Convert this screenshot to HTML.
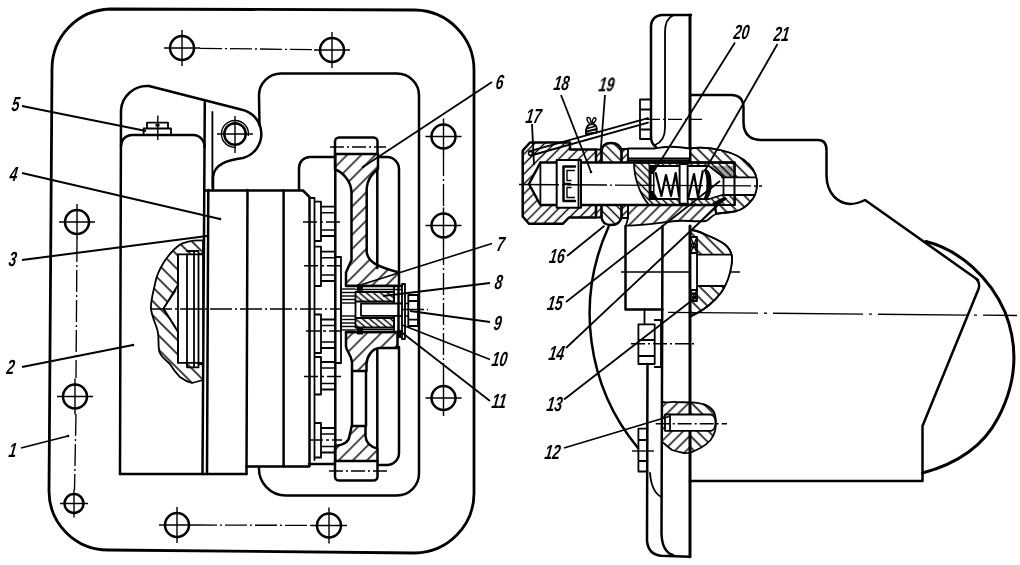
<!DOCTYPE html>
<html><head><meta charset="utf-8"><title>Drawing</title>
<style>
html,body{margin:0;padding:0;background:#fff}
svg{display:block}
.k{fill:none;stroke:#000;stroke-width:2.5;stroke-linecap:round;stroke-linejoin:round}
.m{fill:none;stroke:#000;stroke-width:1.8;stroke-linecap:round;stroke-linejoin:round}
.t{fill:none;stroke:#000;stroke-width:1.4}
.l{fill:none;stroke:#000;stroke-width:1.8}
.c{fill:none;stroke:#000;stroke-width:1.35;stroke-dasharray:22 3 2 3}
.w{fill:#fff;stroke:#000;stroke-width:2.3;stroke-linejoin:round}
.wm{fill:#fff;stroke:#000;stroke-width:1.8;stroke-linejoin:round}
.wn{fill:#fff;stroke:none}
.b{fill:#000;stroke:none}
text{font-family:"Liberation Sans",sans-serif;font-style:italic;font-weight:bold;fill:#000}
</style></head><body>
<svg width="1020" height="565" viewBox="0 0 1020 565">
<defs>
<pattern id="h10" width="10" height="10" patternUnits="userSpaceOnUse" patternTransform="rotate(45)"><path d="M5.0,-1V11.0" stroke="#000" stroke-width="1.4"/></pattern>
<pattern id="h8" width="8" height="8" patternUnits="userSpaceOnUse" patternTransform="rotate(45)"><path d="M4,-1V9" stroke="#000" stroke-width="1.4"/></pattern>
<pattern id="h7" width="7" height="7" patternUnits="userSpaceOnUse" patternTransform="rotate(45)"><path d="M3.5,-1V8.0" stroke="#000" stroke-width="1.4"/></pattern>
<pattern id="h5" width="5" height="5" patternUnits="userSpaceOnUse" patternTransform="rotate(45)"><path d="M2.5,-1V6.0" stroke="#000" stroke-width="1.4"/></pattern>
<pattern id="b10" width="10" height="10" patternUnits="userSpaceOnUse" patternTransform="rotate(-45)"><path d="M5,-1V11" stroke="#000" stroke-width="1.5"/></pattern>
<pattern id="b8" width="8" height="8" patternUnits="userSpaceOnUse" patternTransform="rotate(-45)"><path d="M4,-1V9" stroke="#000" stroke-width="1.5"/></pattern>
<pattern id="b7" width="7" height="7" patternUnits="userSpaceOnUse" patternTransform="rotate(-45)"><path d="M3.5,-1V8.0" stroke="#000" stroke-width="1.4"/></pattern>
<pattern id="b5" width="5" height="5" patternUnits="userSpaceOnUse" patternTransform="rotate(-45)"><path d="M2.5,-1V6.0" stroke="#000" stroke-width="1.4"/></pattern>
<pattern id="b4" width="4.5" height="4.5" patternUnits="userSpaceOnUse" patternTransform="rotate(-50)"><path d="M2.25,-1V5.5" stroke="#000" stroke-width="1.4"/></pattern>
</defs>
<rect width="1020" height="565" fill="#fff"/>
<path class="k" style="stroke-width:2.8" d="M110,9 L415,10 A60,60 0 0 1 474,70 L474,493 A60,60 0 0 1 415,553 L108,550 A59,59 0 0 1 49,491 L52,69 A60,60 0 0 1 110,9Z"/>
<circle cx="182" cy="48" r="12" class="k"/>
<path d="M164,48H200M182,30V66" class="t"/>
<circle cx="332" cy="50" r="12" class="k"/>
<path d="M314,50H350M332,32V68" class="t"/>
<circle cx="443.5" cy="136.5" r="12" class="k"/>
<path d="M425.5,136.5H461.5M443.5,118.5V154.5" class="t"/>
<circle cx="443.5" cy="225.5" r="12" class="k"/>
<path d="M425.5,225.5H461.5M443.5,207.5V243.5" class="t"/>
<circle cx="443.5" cy="398" r="12" class="k"/>
<path d="M425.5,398H461.5M443.5,380V416" class="t"/>
<circle cx="329" cy="525.5" r="12" class="k"/>
<path d="M311,525.5H347M329,507.5V543.5" class="t"/>
<circle cx="177" cy="525" r="12" class="k"/>
<path d="M159,525H195M177,507V543" class="t"/>
<circle cx="75" cy="396.5" r="12" class="k"/>
<path d="M57,396.5H93M75,378.5V414.5" class="t"/>
<circle cx="77" cy="222" r="12" class="k"/>
<path d="M59,222H95M77,204V240" class="t"/>
<circle cx="74" cy="503.5" r="9.5" class="k"/>
<path d="M60,503.5H88M74,489.5V517.5" class="t"/>
<path class="c" d="M200,48.3 L314,49.7"/>
<path class="c" d="M195,525 L311,525.4"/>
<path class="c" d="M443.5,154 V208 M443.5,243 V380"/>
<path class="c" d="M77,240 L76,378 M76,414 L74.5,490"/>
<path class="k" d="M120,474 L121,110 A26,26 0 0 1 149,86 L241,109.5 A24.9,24.9 0 0 1 243,158 C228,160 214,164 213,177 L213,190"/>
<path class="k" d="M259.5,125 L259,96 A22,22 0 0 1 281,73.5 L397,73.5 A22,22 0 0 1 419,96 L419,473 A22,22 0 0 1 397,495.5 L286,495.5 A27,27 0 0 1 259,467"/>
<circle cx="235" cy="134" r="10.7" class="k"/>
<path class="t" d="M248.3,136 A13.5,13.5 0 1 0 236,147.4"/>
<path class="t" d="M217,134H253M235,116V153"/>
<path class="k" d="M121,146 A11,11 0 0 1 132,135 L193,135 A11.5,11.5 0 0 1 204.6,147"/>
<path class="k" d="M204.8,102 L202.5,474"/>
<path class="k" d="M208.3,190 L207,474"/>
<path class="m" d="M212.4,112 V188"/>
<path class="k" d="M120,474 H246.5"/>
<path class="k" d="M247.5,190 L246.5,474"/>
<path class="k" d="M246.5,466.5 H309"/>
<path class="m" d="M143.6,135 V128.5 H171 V135 M147,128.5 V122.7 H168 V128.5"/>
<path class="t" d="M157.8,115.5 V140"/>
<rect x="155.5" y="124" width="4" height="2.5" class="b"/>
<path class="k" d="M205,190.5 H303 L309.5,197 V466"/>
<path class="k" d="M283.6,190.5 V466"/>
<path class="m" d="M309.5,198 H314.5 V460"/>
<path class="k" d="M299,190 V168 A11,11 0 0 1 310,157 H335"/>
<path class="k" d="M378,157 H387 A12,12 0 0 1 399,169 V272 M399,347 V453 A12,12 0 0 1 387,465 H378"/>
<path class="k" d="M309,464 H334"/>
<path d="M335,154 H378 V169 C374,172 367.5,178 366.7,188 V252 C368,262 376,266 399,272.5 V286 H346 V272.5 L351.5,260 V192 C351,180 342,172 335,169.5Z" class="k" style="fill:url(#h10)"/>
<path d="M346,332 H397.5 V348 H379 C372,349 367,356 366.5,364 V371 H352 V362 C351,354 346,350 346,346.5Z" class="k" style="fill:url(#h10)"/>
<path d="M351.7,426 H365.5 V436 C366,443 371,447 377.5,448.5 V461 H335 V446 C343,445 349,442 349.5,436 Z" class="k" style="fill:url(#h10)"/>
<path class="k" d="M352,371 V426 M366,371 V426"/>
<path class="k" d="M335,154 V141.5 A4,4 0 0 1 339,137.5 H373.5 A4,4 0 0 1 377.5,141.5 V154"/>
<path class="k" d="M335,461 V476.5 A4,4 0 0 0 339,480.5 H373.5 A4,4 0 0 0 377.5,476.5 V461"/>
<path class="k" d="M335.3,154 V461"/>
<path class="k" d="M377.3,169 V268 M377.3,349 V448"/>
<path class="c" style="stroke-dasharray:14 3 2 3" d="M330,147 H386 M329,471 H387"/>
<rect x="341" y="286" width="61" height="46" class="wn"/>
<path class="k" d="M346,286 H402 M346,332 H402"/>
<rect x="357" y="284.3" width="6" height="6.5" class="b"/>
<rect x="357" y="328" width="6" height="6.5" class="b"/>
<path class="m" d="M341,287 V331"/>
<path class="t" d="M341,289 H355.5"/>
<path class="t" d="M341,292.5 H355.5"/>
<path class="t" d="M341,296 H355.5"/>
<path class="t" d="M341,299.5 H355.5"/>
<path class="t" d="M341,303 H355.5"/>
<path class="t" d="M341,316 H355.5"/>
<path class="t" d="M341,319.5 H355.5"/>
<path class="t" d="M341,323 H355.5"/>
<path class="t" d="M341,326.5 H355.5"/>
<path class="t" d="M341,330 H355.5"/>
<path class="t" d="M355.5,289.5 H402 M355.5,329.5 H394"/>
<rect x="355.5" y="292" width="38.5" height="9.5" class="m" style="fill:url(#b4)"/>
<rect x="355.5" y="318" width="38.5" height="9.5" class="m" style="fill:url(#b4)"/>
<path class="m" d="M355.5,301.5 V318 M361,303.5 H402 M361,315.8 H402 M361,303.5 V315.8 M394,287 V303.5 M394,315.8 V332"/>
<path class="m" d="M402,284 V339 M405,284 V339 M402,284 H405 M402,339 H405"/>
<path class="m" d="M408.3,295 H418 V326 H408.3 Z M408.3,301 H418 M408.3,319.7 H418"/>
<path class="t" d="M405,303.5 H408.3 M405,316 H408.3"/>
<rect x="397" y="330" width="4" height="8" class="b"/>
<path class="k" d="M398.5,286 V332"/>
<path class="m" d="M315.5,201.7 H321 V241 H315.5"/>
<path class="m" d="M321,206.7 H335 M321,236 H335"/>
<path class="t" d="M321,212.7 H335 M321,230 H335"/>
<path class="m" d="M315.5,246.7 H321 V286 H315.5"/>
<path class="m" d="M321,251.7 H335 M321,281 H335"/>
<path class="t" d="M321,257.7 H335 M321,275 H335"/>
<path class="m" d="M315.5,314.5 H321 V353 H315.5"/>
<path class="m" d="M321,319.5 H335 M321,348 H335"/>
<path class="t" d="M321,325.5 H335 M321,342 H335"/>
<path class="m" d="M315.5,357 H321 V394.5 H315.5"/>
<path class="m" d="M321,362 H335 M321,389.5 H335"/>
<path class="t" d="M321,368 H335 M321,383.5 H335"/>
<path class="m" d="M315.5,423 H321 V457.5 H315.5"/>
<path class="m" d="M321,428 H335 M321,452.5 H335"/>
<path class="t" d="M321,434 H335 M321,446.5 H335"/>
<path class="t" style="stroke-dasharray:14 3 3 3" d="M303,222 H340"/>
<path class="t" style="stroke-dasharray:14 3 3 3" d="M304,265.7 H343"/>
<path class="t" style="stroke-dasharray:14 3 3 3" d="M306,331 H341"/>
<path class="t" style="stroke-dasharray:14 3 3 3" d="M304,376.5 H342"/>
<path class="t" style="stroke-dasharray:14 3 3 3" d="M309,440 H342"/>
<path class="m" d="M335,257 H341 V363 H335"/>
<path d="M203,240.5 C190,240 182,243 179.5,245 C172,250 168,256 164,262 C159,270 156,277 155,284 C153,293 150.5,302 151,308.6 C152,318 157,326 158,333 C159,340 158,347 159.4,352 C162,358 166,360 170,364 C173,369 176,373 179.5,376.7 C184,380 188,382 192,383 L203,380 Z" class="m" style="fill:url(#b10)"/>
<path class="wm" d="M203,254.4 H178 V285 L163.4,308.6 L178,332 V362.8 H203 Z"/>
<path class="m" d="M178,254.4 V362.8 M187,254.4 V362.8 M187,251 H194 V367.4 H187 V362.8 M194,251 H198.5 V367.4 H194 M198.5,254 H203 M198.5,364 H203"/>
<path class="t" d="M163.4,308.6 L176,290 M163.4,308.6 L176,328"/>
<path class="c" d="M150,309 H340 M402,309.5 H428"/>
<path class="k" d="M651,137 V26 A11,11 0 0 1 662,15 H691"/>
<path class="k" style="stroke-width:3" d="M690,15 V162 M690,226 V556.7"/>
<path class="m" d="M673,15.5 C667,18 665,24 665,32 V128 C665,138 660,143 655,145"/>
<path class="k" d="M651,137 C651,142 653,145 656,147"/>
<path class="k" d="M662.5,226 L661.5,534 C662,546 666,553 673,555"/>
<path class="k" d="M647.5,364 L647,541 C648,550 653,555 661,555.7 L690,556.7"/>
<path class="m" d="M650,473 C651,485 655,494 661.5,497"/>
<path class="m" d="M651,99.5 H640 V139 H651 M640,109.5 H651 M640,129.5 H651"/>
<path class="c" style="stroke-dasharray:14 3 2 3" d="M646,119.3 H702"/>
<path class="m" style="stroke-width:1.9" d="M529,151.3 L648,118.2 M531,155.5 L648,122.6"/>
<circle cx="530.5" cy="153.5" r="2" class="t"/>
<path class="m" d="M586,134 C585,128 588,124 592,124 C596,124 598,128 596.5,132.5 Z M587,128.5 L596,126 M586.5,131.5 L597,129"/>
<path class="t" d="M589.5,123.5 C587,121 586,118 588,117.5 C590,117 591,120 591,123 M592.5,123 C592,120 593.5,117 595.5,118 C597,119 595,122 593,123.5"/>
<path d="M530,142.5 H570 V149.5 H596 V217.5 H569 L563,223.7 H529 L522.7,216.5 V150.7 Z" class="k" style="fill:url(#h7)"/>
<rect x="596" y="149.5" width="5.5" height="68" class="m" style="fill:url(#h5)"/>
<path d="M601.5,151 C602,146 605,143 611,143 C617,143 620.5,146 621.5,151 V217 C620.5,222 617,225 611,225 C605,225 602,222 601.5,217 Z" class="k" style="fill:url(#b7)"/>
<rect x="621.5" y="149" width="6.5" height="69" class="m" style="fill:url(#h5)"/>
<path d="M628,205 H715 L716,214 C711,216 709,220 706,221 C695,222 685,220 675.7,221 C660,222.5 640,226 626,225.5 L628,218 Z" class="m" style="fill:url(#h8)"/>
<path d="M690,162.5 V148.5 C700,147 712,148 722,150.5 C733,153 743,158 749,164.4 C755,171 757.5,178 757,185 C756.5,192 755,197 751,201 C747,206 742,209.5 736.7,211 C728,213 722,212.5 716,214 L715,205 H734.6 V162.5 Z" class="m" style="fill:url(#b8)"/>
<path class="wm" d="M628,148.5 H655 C665,146 675,146 690,148.5 V158.5 H628 Z"/>
<path class="m" d="M628,160.5 H690"/>
<path class="wn" d="M540.4,162.5 H651 V205 H540.4 L529,184 Z"/>
<path class="k" d="M690,162.5 H540.4 L529,184 L540.4,205 H715"/>
<path class="m" d="M540.4,162.5 V205"/>
<path class="wm" style="stroke-width:2" d="M556.7,160 H581 V207.7 H556.7 Z"/>
<path class="k" d="M575,166.5 H563.5 V201 H575 M563.5,184 H570"/>
<path class="t" d="M575,170.5 H567 V180.5 H571.5 M571.5,187.5 H567 V197.5 H575"/>
<path class="m" d="M578.5,160 V207.7"/>
<path d="M634,162.5 H734.6 V205 H649 C640,195 634,178 634,162.5 Z" class="m" style="fill:url(#b5)"/>
<rect x="649.5" y="166" width="30.2" height="33" class="wm"/>
<rect x="679.7" y="164" width="8" height="39.7" class="wm"/>
<path class="wm" d="M687.7,166 H709 L722,176 V177.4 H734.6 V195 H722 L709,199 H687.7 Z"/>
<path class="m" d="M723.5,177.4 V195"/>
<path class="k" style="stroke-width:2.2" d="M655.8,173 L661.4,196 L666,175 L671,196 L675.7,173 L679,196"/>
<path class="k" style="stroke-width:2.2" d="M688.5,197 L694,174 L698,197 L702.8,171"/>
<path class="b" d="M649.5,166 H658 L654.5,172 V193 L658,199 H649.5 Z"/>
<path class="wn" d="M651.5,174 H653 V191 H651.5 Z"/>
<path class="b" d="M703.5,169.5 C708,168 711.5,172 711.6,184 C711.5,196 708,200 703.5,199 C706,194 706.5,189 706.5,184 C706.5,179 706,174 703.5,169.5 Z"/>
<path class="b" d="M709,166 H734.6 V177.4 H722 Z" style="opacity:.35"/>
<path class="b" d="M712,203 L725,196.5 L727,199 L716,206 Z"/>
<clipPath id="cb"><path d="M690,162.5 V148.5 C700,147 712,148 722,150.5 C733,153 743,158 749,164.4 C755,171 757.5,178 757,185 C756.5,192 755,197 751,201 C747,206 742,209.5 736.7,211 C728,213 722,212.5 716,214 L715,205 H734.6 V162.5 Z"/></clipPath>
<path class="wn" clip-path="url(#cb)" d="M734.6,177.4 H760 V195 H734.6 Z"/>
<path class="m" d="M734.6,177.4 H755.5 M734.6,195 H753.5"/>
<path d="M690,162.5 V148.5 C700,147 712,148 722,150.5 C733,153 743,158 749,164.4 C755,171 757.5,178 757,185 C756.5,192 755,197 751,201 C747,206 742,209.5 736.7,211 C728,213 722,212.5 716,214 L715,205 H734.6 V162.5 Z" class="m"/>
<path class="c" style="stroke-dasharray:40 3 2 3" d="M519,184.5 L762,186"/>
<path class="k" d="M625.5,226 V309.5 H662.5"/>
<path class="k" d="M608.6,226.8 A210,210 0 0 0 638,448"/>
<path class="m" d="M644.5,309.5 V324.4"/>
<path class="m" d="M638.4,324.4 H654.7 V364 H638.4 Z M638.4,340 H654.7 M638.4,356 H654.7"/>
<path class="m" d="M654.7,320 H661 V367 H654.7"/>
<path class="c" style="stroke-dasharray:14 3 2 3" d="M631,343.7 H696"/>
<path class="m" d="M647.5,428.7 H638.4 V471.5 H647.5 M638.4,440 H647.5 M638.4,461 H647.5"/>
<path class="t" d="M632,451 H654"/>
<path class="c" style="stroke-dasharray:78 4 3 4" d="M621,272 H740"/>
<path d="M690,230 C697,230 702,233 706.5,235 C714,238 720,241 725,244.4 C730,249 732,254 732,258.7 C732,266 730,273 728,279 C726,284 724,289 720.8,293 C717,298 713,302 708.6,305.5 C704,309 700,312 696,313.6 L690,316.6 Z" class="m" style="fill:url(#b8)"/>
<clipPath id="c13"><path d="M690,230 C697,230 702,233 706.5,235 C714,238 720,241 725,244.4 C730,249 732,254 732,258.7 C732,266 730,273 728,279 C726,284 724,289 720.8,293 C717,298 713,302 708.6,305.5 C704,309 700,312 696,313.6 L690,316.6 Z"/></clipPath>
<path class="wn" clip-path="url(#c13)" d="M697,254.6 H740 V286 H697 Z"/>
<path d="M690,230 C697,230 702,233 706.5,235 C714,238 720,241 725,244.4 C730,249 732,254 732,258.7 C732,266 730,273 728,279 C726,284 724,289 720.8,293 C717,298 713,302 708.6,305.5 C704,309 700,312 696,313.6 L690,316.6 Z" class="m"/>
<path class="m" d="M697,254.6 H731.5 M697,286 H724.5"/>
<path class="wm" d="M690.5,237 H697 V301 H690.5 Z"/>
<path class="m" d="M690.5,253 H697 M690.5,290 H697"/>
<circle cx="693.7" cy="245.5" r="2.2" class="t"/><circle cx="693.7" cy="295.5" r="2.2" class="t"/>
<path class="t" d="M691,238 L696.5,252 M696.5,238 L691,252 M691,291 L696.5,300 M696.5,291 L691,300"/>
<path d="M662,402 C668,403 672,401.5 676,402 L690,402.5 V452.5 C688,453 686,453.2 684,453 C679,452 675,451 672,450 C668,447 665,444 662,442 Z" class="m" style="fill:url(#h8)"/>
<path d="M690,402.5 C695,402 699,403 702.5,404 C707,405 711,408 713.7,411.4 C716,416 716.5,424 715,431 C714,435 712,438 710.6,440 C707,444 704,446 700.5,448 C696,450 693,452 690,452.5 Z" class="m" style="fill:url(#b8)"/>
<path class="wm" d="M665,414.5 H711 A5,8.2 0 0 1 711,430.8 H665 Z"/>
<path class="m" d="M670,414.5 V430.8"/>
<path class="c" style="stroke-dasharray:14 3 2 3" d="M655.7,423.7 H727"/>
<path class="k" d="M691,95 H731 C740,95 743.5,100 743.5,108 V122 C743.5,134 750,140 762,140 H818 C824,140 826.5,144 826.5,150 V176 C827,192 836,203 850,204 C856,204 861,202 865,200 L978,280"/>
<path class="k" style="stroke-width:3" d="M926,241.5 C960,250 990,278 1005,312 C1018,345 1018,380 998,418 C985,443 960,463 922.5,473"/>
<path class="k" d="M976.5,279 C979,282 980,285 978.5,289 L922.5,426 V481 H690"/>
<path class="c" style="stroke-dasharray:90 6 3 6" d="M668,312.3 L1017,315.5"/>
<g opacity="0.999"><!-- LABELS_GROUP -->
<text transform="translate(11,111) skewX(-8) scale(0.68,1)" font-size="20.5">5</text>
<text transform="translate(9,181) skewX(-8) scale(0.68,1)" font-size="20.5">4</text>
<text transform="translate(8,266) skewX(-8) scale(0.68,1)" font-size="20.5">3</text>
<text transform="translate(6,374) skewX(-8) scale(0.68,1)" font-size="20.5">2</text>
<text transform="translate(8,457) skewX(-8) scale(0.68,1)" font-size="20.5">1</text>
<text transform="translate(495,89) skewX(-8) scale(0.68,1)" font-size="20.5">6</text>
<text transform="translate(496,250.5) skewX(-8) scale(0.68,1)" font-size="20.5">7</text>
<text transform="translate(494,289) skewX(-8) scale(0.68,1)" font-size="20.5">8</text>
<text transform="translate(493,329.5) skewX(-8) scale(0.68,1)" font-size="20.5">9</text>
<text transform="translate(491,366) skewX(-8) scale(0.68,1)" font-size="20.5">10</text>
<text transform="translate(491,408) skewX(-8) scale(0.68,1)" font-size="20.5">11</text>
<text transform="translate(544,459) skewX(-8) scale(0.68,1)" font-size="20.5">12</text>
<text transform="translate(546,411) skewX(-8) scale(0.68,1)" font-size="20.5">13</text>
<text transform="translate(548,359.5) skewX(-8) scale(0.68,1)" font-size="20.5">14</text>
<text transform="translate(546.5,309.5) skewX(-8) scale(0.68,1)" font-size="20.5">15</text>
<text transform="translate(548.5,263.4) skewX(-8) scale(0.68,1)" font-size="20.5">16</text>
<text transform="translate(525,122.5) skewX(-8) scale(0.68,1)" font-size="20.5">17</text>
<text transform="translate(553,90) skewX(-8) scale(0.68,1)" font-size="20.5">18</text>
<text transform="translate(598,91.5) skewX(-8) scale(0.68,1)" font-size="20.5">19</text>
<text transform="translate(733,39) skewX(-8) scale(0.68,1)" font-size="20.5">20</text>
<text transform="translate(773,41) skewX(-8) scale(0.68,1)" font-size="20.5">21</text>
<path d="M22,106L146,131" class="l"/>
<path d="M22,173L220,219" class="l"/>
<circle cx="220" cy="219" r="1.3" fill="#000"/>
<path d="M22,260L207,236" class="l"/>
<path d="M22,367L133,345" class="l"/>
<circle cx="133" cy="345" r="1.3" fill="#000"/>
<path d="M21,448L68,436" class="l"/>
<circle cx="68" cy="436" r="1.3" fill="#000"/>
<path d="M492,82L363,167" class="l"/>
<circle cx="363" cy="167" r="1.3" fill="#000"/>
<path d="M492,243.5L362,284.5" class="l"/>
<path d="M490,283L383,296" class="l"/>
<path d="M490,322L410,311" class="l"/>
<path d="M490,359.5L401,324.5" class="l"/>
<path d="M490,401L402.5,333" class="l"/>
<path d="M564,448L669,416.5" class="l"/>
<path d="M564,399.5L695,298" class="l"/>
<path d="M566,348L724.5,199" class="l"/>
<path d="M566,302L720,181" class="l"/>
<path d="M567,256L604.5,225.8" class="l"/>
<path d="M532,124L534,165" class="l"/>
<path d="M561,95L591,172" class="l"/>
<circle cx="591" cy="172" r="1.3" fill="#000"/>
<path d="M605,95L600.5,153.7" class="l"/>
<path d="M735,42.5L657,166.4" class="l"/>
<path d="M777.5,44L705,170.5" class="l"/>
</g>
</svg>
</body></html>
